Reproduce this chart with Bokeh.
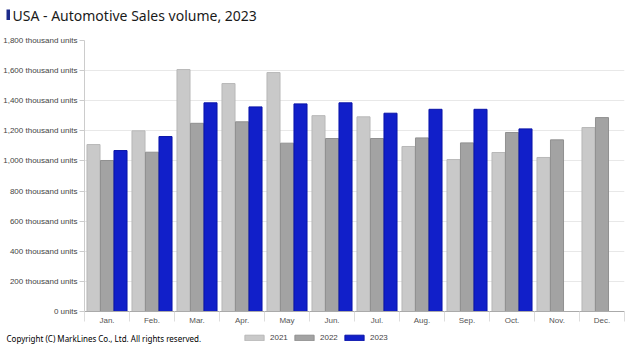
from bokeh.plotting import figure
from bokeh.layouts import column, row
from bokeh.models import (ColumnDataSource, FixedTicker, Label, Legend, LegendItem,
                          Range1d, BoxAnnotation)
from bokeh.transform import dodge
from bokeh.embed import file_html
from bokeh.resources import INLINE

months = ["Jan.", "Feb.", "Mar.", "Apr.", "May", "Jun.", "Jul.", "Aug.", "Sep.", "Oct.", "Nov.", "Dec."]
sales_2021 = [1109, 1200, 1607, 1514, 1587, 1301, 1293, 1096, 1009, 1056, 1023, 1222]
sales_2022 = [1003, 1058, 1250, 1260, 1118, 1149, 1149, 1153, 1120, 1189, 1140, 1288]
sales_2023 = [1069, 1162, 1386, 1359, 1379, 1386, 1317, 1343, 1343, 1213, float("nan"), float("nan")]
y_ticks = [0, 200, 400, 600, 800, 1000, 1200, 1400, 1600, 1800]
y_tick_labels = ["0 units", "200 thousand units", "400 thousand units", "600 thousand units",
                 "800 thousand units", "1,000 thousand units", "1,200 thousand units",
                 "1,400 thousand units", "1,600 thousand units", "1,800 thousand units"]
series_names = ["2021", "2022", "2023"]
title_text = "USA - Automotive Sales volume, 2023"
copyright_text = "Copyright (C) MarkLines Co., Ltd. All rights reserved."

fills = ["#c9c9c9", "#a3a3a3", "#111fc9"]
lines = ["#b8b8b8", "#909090", "#0a14a8"]

W = 640
TOP_H, MAIN_H, BOT_H = 30, 300, 23


def strip(h):
    f = figure(width=W, height=h, x_range=Range1d(0, W), y_range=Range1d(0, h),
               output_backend="svg", toolbar_location=None,
               x_axis_location=None, y_axis_location=None, min_border=0,
               min_border_left=0, min_border_right=0, min_border_top=0, min_border_bottom=0)
    f.outline_line_color = None
    f.xgrid.grid_line_color = None
    f.ygrid.grid_line_color = None
    return f


# ---- title strip ----
top = strip(TOP_H)
top.add_layout(BoxAnnotation(left=6, right=9.5, bottom=TOP_H - 19.5, top=TOP_H - 9,
                             fill_color="#1c2a8a", fill_alpha=1, line_color=None))
top.add_layout(Label(x=12, y=TOP_H - 14.5, text=title_text, text_color="#1a1a1a",
                     text_font="Noto Sans", text_font_size="14px", text_baseline="middle"))

# ---- main chart ----
pos = [i + 0.5 for i in range(len(months))]
src = ColumnDataSource(dict(x=pos, y21=sales_2021, y22=sales_2022, y23=sales_2023))

p = figure(width=W, height=MAIN_H, x_range=Range1d(0, 12), y_range=Range1d(0, 1800),
           output_backend="svg", toolbar_location=None,
           min_border_left=83, min_border_right=16, min_border_top=10, min_border_bottom=19)
p.outline_line_color = None

bw = 0.29
p.vbar(x=dodge("x", -0.3), top="y21", width=bw, source=src,
       fill_color=fills[0], line_color=lines[0], line_width=1)
p.vbar(x="x", top="y22", width=bw, source=src,
       fill_color=fills[1], line_color=lines[1], line_width=1)
p.vbar(x=dodge("x", 0.3), top="y23", width=bw, source=src,
       fill_color=fills[2], line_color=lines[2], line_width=1)

p.xaxis.ticker = FixedTicker(ticks=pos, minor_ticks=list(range(13)))
p.xaxis.major_label_overrides = {x: m for x, m in zip(pos, months)}
p.xaxis.major_tick_line_color = None
p.xaxis.major_tick_out = 0
p.xaxis.minor_tick_out = 10
p.xaxis.minor_tick_in = 0
p.xaxis.minor_tick_line_color = "#dddddd"
p.xaxis.axis_line_color = "#aaaaaa"
p.xaxis.major_label_text_font = "Liberation Sans"
p.xaxis.major_label_text_font_size = "8px"
p.xaxis.major_label_text_color = "#555555"
p.xaxis.major_label_standoff = -6
p.xgrid.grid_line_color = None

p.yaxis.ticker = FixedTicker(ticks=y_ticks)
p.yaxis.major_label_overrides = {t: l for t, l in zip(y_ticks, y_tick_labels)}
p.yaxis.axis_line_color = "#cccccc"
p.yaxis.major_tick_line_color = "#cccccc"
p.yaxis.major_tick_out = 5
p.yaxis.major_tick_in = 0
p.yaxis.minor_tick_line_color = None
p.yaxis.major_label_text_font = "Liberation Sans"
p.yaxis.major_label_text_font_size = "8px"
p.yaxis.major_label_text_color = "#444444"
p.yaxis.major_label_standoff = 2
p.ygrid.grid_line_color = "#e8e8e8"

# ---- bottom strip: copyright + legend ----
bot = strip(BOT_H)
bot.add_layout(Label(x=6, y=BOT_H - 8, text=copyright_text, text_color="#000000",
                     text_font="Noto Sans", text_font_size="8px", text_baseline="middle"))
dummy = ColumnDataSource(dict(x=[float("nan")], top=[float("nan")]))
rs = [bot.vbar(x="x", top="top", width=1, source=dummy, fill_color=fc, line_color=lc)
      for fc, lc in zip(fills, lines)]
legend = Legend(items=[LegendItem(label=n, renderers=[r]) for n, r in zip(series_names, rs)],
                location=(242, BOT_H - 12), orientation="horizontal",
                glyph_width=24, glyph_height=7, label_text_font_size="8px",
                label_text_font="Liberation Sans", label_text_color="#444444",
                label_standoff=4, spacing=2, padding=0, margin=0, label_height=8,
                background_fill_alpha=0, border_line_color=None)
bot.add_layout(legend, "center")

layout = column(row(top), p, row(bot), spacing=0)
open("out.html", "w").write(file_html(layout, INLINE))
